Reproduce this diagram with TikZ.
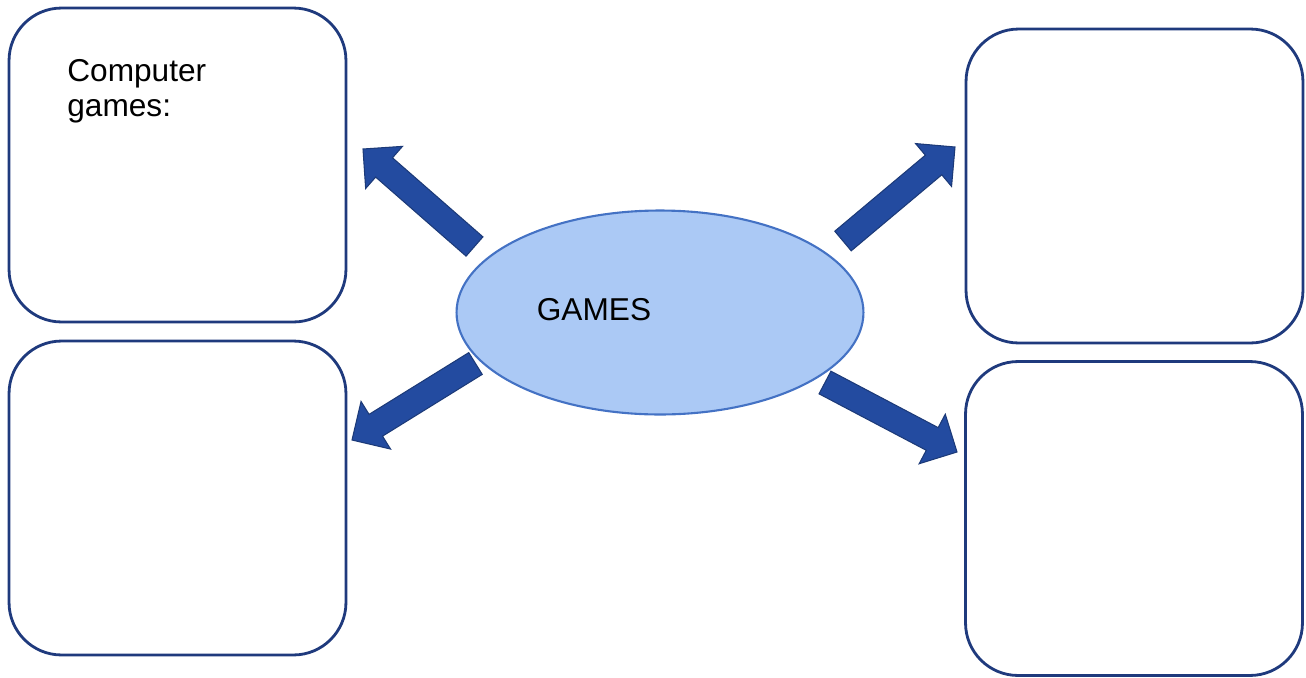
\documentclass[tikz,border=0pt]{standalone}
\usepackage{fontspec}
\setmainfont{Liberation Sans}
\usepackage{tikz}
\usetikzlibrary{calc,shapes.geometric}

\definecolor{boxline}{RGB}{31,58,125}
\definecolor{ovalfill}{RGB}{171,201,245}
\definecolor{ovalline}{RGB}{68,114,196}
\definecolor{arrowfill}{RGB}{35,75,160}
\definecolor{arrowline}{RGB}{28,58,120}

\begin{document}
\begin{tikzpicture}[x=0.02cm,y=-0.02cm,
        card/.style={draw=boxline,line width=1.6pt,rounded corners=1.05cm,
            minimum width=6.74cm,minimum height=6.28cm,inner sep=0pt},
        oval/.style={ellipse,draw=ovalline,fill=ovalfill,line width=1.2pt,
            minimum width=8.14cm,minimum height=4.08cm,inner sep=0pt},
        txt/.style={font=\fontsize{18}{20}\selectfont,inner sep=0pt},
        fatarrow/.style={fill=arrowfill,draw=arrowline,line width=0.6pt}]
        \useasboundingbox (0,0) rectangle (1306,677);
        \pgfmathsetmacro\sw{0.256}
        \pgfmathsetmacro\hw{0.56}
        \pgfmathsetmacro\hl{0.56}
        \node[card] (cg) at (177.5,165) {};
        \node[card] (bl) at (177.5,498) {};
        \node[card] (tr) at (1134.5,186) {};
        \node[card] (br) at (1134,518.5) {};
        \node[txt,anchor=north west,align=left] (cgt) at (67,59) {Computer\\games:};
        \node[oval] (games) at (660,312.5) {};
        \node[txt] (gt) at (594,310) {GAMES};
        \coordinate (t1) at (474.5,246.5);
        \coordinate (p1) at (363,149);
        \coordinate (t2) at (475.5,363.5);
        \coordinate (p2) at (352,440);
        \coordinate (t3) at (843,241);
        \coordinate (p3) at (955,147);
        \coordinate (t4) at (825,382.5);
        \coordinate (p4) at (957,452);
        \foreach \t/\p in {t1/p1,t2/p2,t3/p3,t4/p4}{
            \coordinate (h) at ($(\p)!\hl cm!(\t)$);
            \draw[fatarrow] ($(\t)!\sw cm!90:(\p)$) -- ($(h)!\sw cm!90:(\p)$)
                -- ($(h)!\hw cm!90:(\p)$) -- (\p) -- ($(h)!\hw cm!-90:(\p)$)
                -- ($(h)!\sw cm!-90:(\p)$) -- ($(\t)!\sw cm!-90:(\p)$) -- cycle;
        }
    \end{tikzpicture}
\end{document}
